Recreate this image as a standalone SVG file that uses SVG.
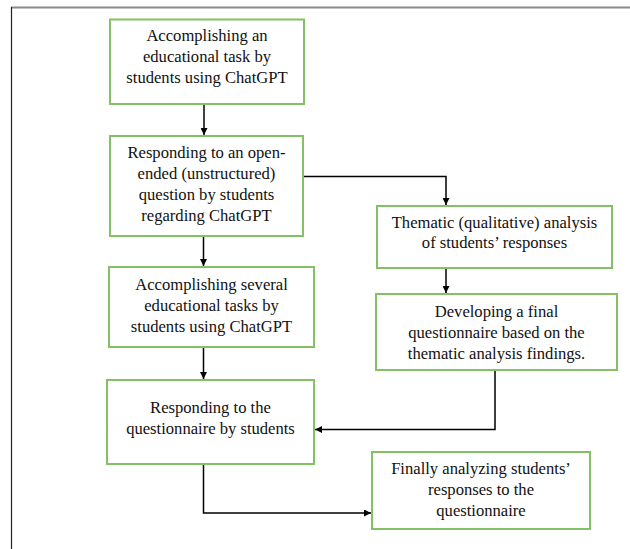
<svg xmlns="http://www.w3.org/2000/svg" width="630" height="549" viewBox="0 0 630 549">
<defs>
<marker id="ah" viewBox="0 0 10 10" refX="10" refY="5" markerWidth="7" markerHeight="7" markerUnits="userSpaceOnUse" orient="auto">
<path d="M0,0 L10,5 L0,10 z" fill="#000"/>
</marker>
<style>
.box{fill:#fff;stroke:#84c065;stroke-width:2}
.t{font-family:"Liberation Serif","Times New Roman",serif;font-size:16.6px;fill:#111;text-anchor:middle}
.c{fill:none;stroke:#000;stroke-width:1.5}
</style>
</defs>
<rect width="630" height="549" fill="#fff"/>
<line x1="11" y1="7.5" x2="630" y2="7.5" stroke="#8a8a8a" stroke-width="2"/>
<line x1="11.5" y1="7" x2="11.5" y2="549" stroke="#222" stroke-width="1.2"/>
<g id="connectors">
<line class="c" x1="204" y1="104" x2="204" y2="135" marker-end="url(#ah)"/>
<polyline class="c" points="303,176.5 446,176.5 446,205" marker-end="url(#ah)"/>
<line class="c" x1="203.5" y1="236" x2="203.5" y2="266" marker-end="url(#ah)"/>
<line class="c" x1="446" y1="268" x2="446" y2="293" marker-end="url(#ah)"/>
<line class="c" x1="203.5" y1="347" x2="203.5" y2="379" marker-end="url(#ah)"/>
<polyline class="c" points="495,370 495,429.5 315,429.5" marker-end="url(#ah)"/>
<polyline class="c" points="203.5,464 203.5,513 371,513" marker-end="url(#ah)"/>
</g>
<g id="n1">
<rect class="box" x="110" y="19.5" width="194" height="84.5"/>
<text class="t" x="207" y="41">Accomplishing an</text>
<text class="t" x="207" y="62">educational task by</text>
<text class="t" x="207" y="83">students using ChatGPT</text>
</g>
<g id="n2">
<rect class="box" x="110" y="136" width="193" height="100"/>
<text class="t" x="206.5" y="158">Responding to an open-</text>
<text class="t" x="206.5" y="179">ended (unstructured)</text>
<text class="t" x="206.5" y="200">question by students</text>
<text class="t" x="206.5" y="221">regarding ChatGPT</text>
</g>
<g id="n3">
<rect class="box" x="377" y="206" width="235" height="62"/>
<text class="t" x="494.5" y="228">Thematic (qualitative) analysis</text>
<text class="t" x="494.5" y="248">of students’ responses</text>
</g>
<g id="n4">
<rect class="box" x="109" y="267" width="205" height="80"/>
<text class="t" x="211.5" y="290">Accomplishing several</text>
<text class="t" x="211.5" y="311">educational tasks by</text>
<text class="t" x="211.5" y="332">students using ChatGPT</text>
</g>
<g id="n5">
<rect class="box" x="376" y="294" width="241" height="76"/>
<text class="t" x="496.5" y="317">Developing a final</text>
<text class="t" x="496.5" y="338">questionnaire based on the</text>
<text class="t" x="496.5" y="359">thematic analysis findings.</text>
</g>
<g id="n6">
<rect class="box" x="107" y="380" width="207" height="84"/>
<text class="t" x="210.5" y="413">Responding to the</text>
<text class="t" x="210.5" y="434">questionnaire by students</text>
</g>
<g id="n7">
<rect class="box" x="372" y="452" width="218" height="77"/>
<text class="t" x="481" y="474">Finally analyzing students’</text>
<text class="t" x="481" y="495">responses to the</text>
<text class="t" x="481" y="516">questionnaire</text>
</g>
</svg>
